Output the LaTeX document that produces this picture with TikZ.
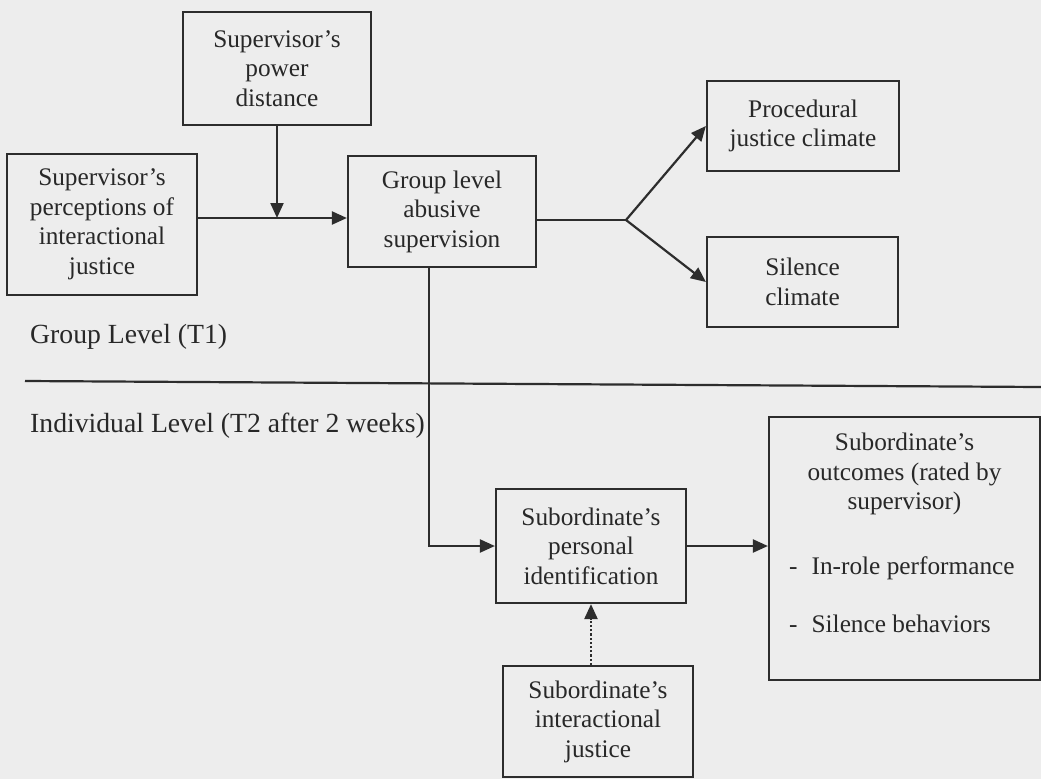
\documentclass[tikz,border=0pt]{standalone}
\usepackage{fontspec}
\setmainfont{Liberation Serif}
\usetikzlibrary{arrows.meta}
\definecolor{bgcol}{RGB}{237,237,237}
\definecolor{inkcol}{RGB}{45,45,45}
\definecolor{txtcol}{RGB}{40,40,40}
\tikzset{
  boxnode/.style={draw=inkcol, line width=2.2pt, align=center, inner sep=0pt,
    text=txtcol, font=\fontsize{25.3}{29.5}\selectfont},
  lvltext/.style={anchor=base west, inner sep=0pt, text=txtcol,
    font=\fontsize{27.7}{32}\selectfont},
  listtext/.style={anchor=base west, inner sep=0pt, text=txtcol,
    font=\fontsize{25.3}{29.5}\selectfont},
  conn/.style={draw=inkcol, line width=2.2pt},
  arr/.style={conn, -{Triangle[length=15pt,width=13pt]}},
}
\begin{document}
\begin{tikzpicture}[x=1pt,y=-1pt]
\fill[bgcol] (0,0) rectangle (1041,779);
\useasboundingbox (0,0) rectangle (1041,779);

% boxes
\node[boxnode, minimum width=188pt, minimum height=113pt] (pd) at (277,68.5)
  {Supervisor's\\power\\distance};
\node[boxnode, minimum width=190pt, minimum height=141pt] (perc) at (102,224.5)
  {Supervisor's\\perceptions of\\interactional\\justice};
\node[boxnode, minimum width=188pt, minimum height=111pt] (group) at (442,211.5)
  {Group level\\abusive\\supervision};
\node[boxnode, minimum width=192pt, minimum height=90pt] (proc) at (803,126)
  {Procedural\\justice climate};
\node[boxnode, minimum width=191pt, minimum height=90pt] (sil) at (802.5,282)
  {Silence\\climate};
\node[boxnode, minimum width=190pt, minimum height=114pt] (pers) at (591,546)
  {Subordinate's\\personal\\identification};
\node[boxnode, minimum width=190pt, minimum height=111pt] (inter) at (598,721.5)
  {Subordinate's\\interactional\\justice};
\node[boxnode, minimum width=271pt, minimum height=263pt] (outc) at (904.5,548.5) {};
\node[boxnode, draw=none] (outct) at (904.5,474)
  {Subordinate's\\outcomes (rated by\\supervisor)};
\node[listtext] (li1) at (789,574) {-\hspace{14pt}In-role performance};
\node[listtext] (li2) at (789,632) {-\hspace{14pt}Silence behaviors};

% level labels
\node[lvltext] (glab) at (30,343) {Group Level (T1)};
\node[lvltext] (ilab) at (30,432) {Individual Level (T2 after 2 weeks)};

% divider
\coordinate (divL) at (25,381);
\coordinate (divR) at (1041,387);
\draw[conn] (divL) -- (divR);

% connectors
\coordinate (j1) at (277,218);
\draw[arr] (perc.east |- j1) -- (group.west |- j1);
\draw[arr] (pd.south) -- (j1);

\coordinate (fork) at (626,220);
\draw[conn] (group.east |- fork) -- (fork);
\draw[arr] (fork) -- (proc.west);
\draw[arr] (fork) -- (sil.west);

\coordinate (elb) at (429,546);
\draw[arr] (group.south -| elb) -- (elb) -- (pers.west);

\draw[arr] (pers.east) -- (pers.east -| outc.west);

\draw[arr, dotted, line width=2.4pt] (inter.north -| pers.south) -- (pers.south);
\end{tikzpicture}
\end{document}
